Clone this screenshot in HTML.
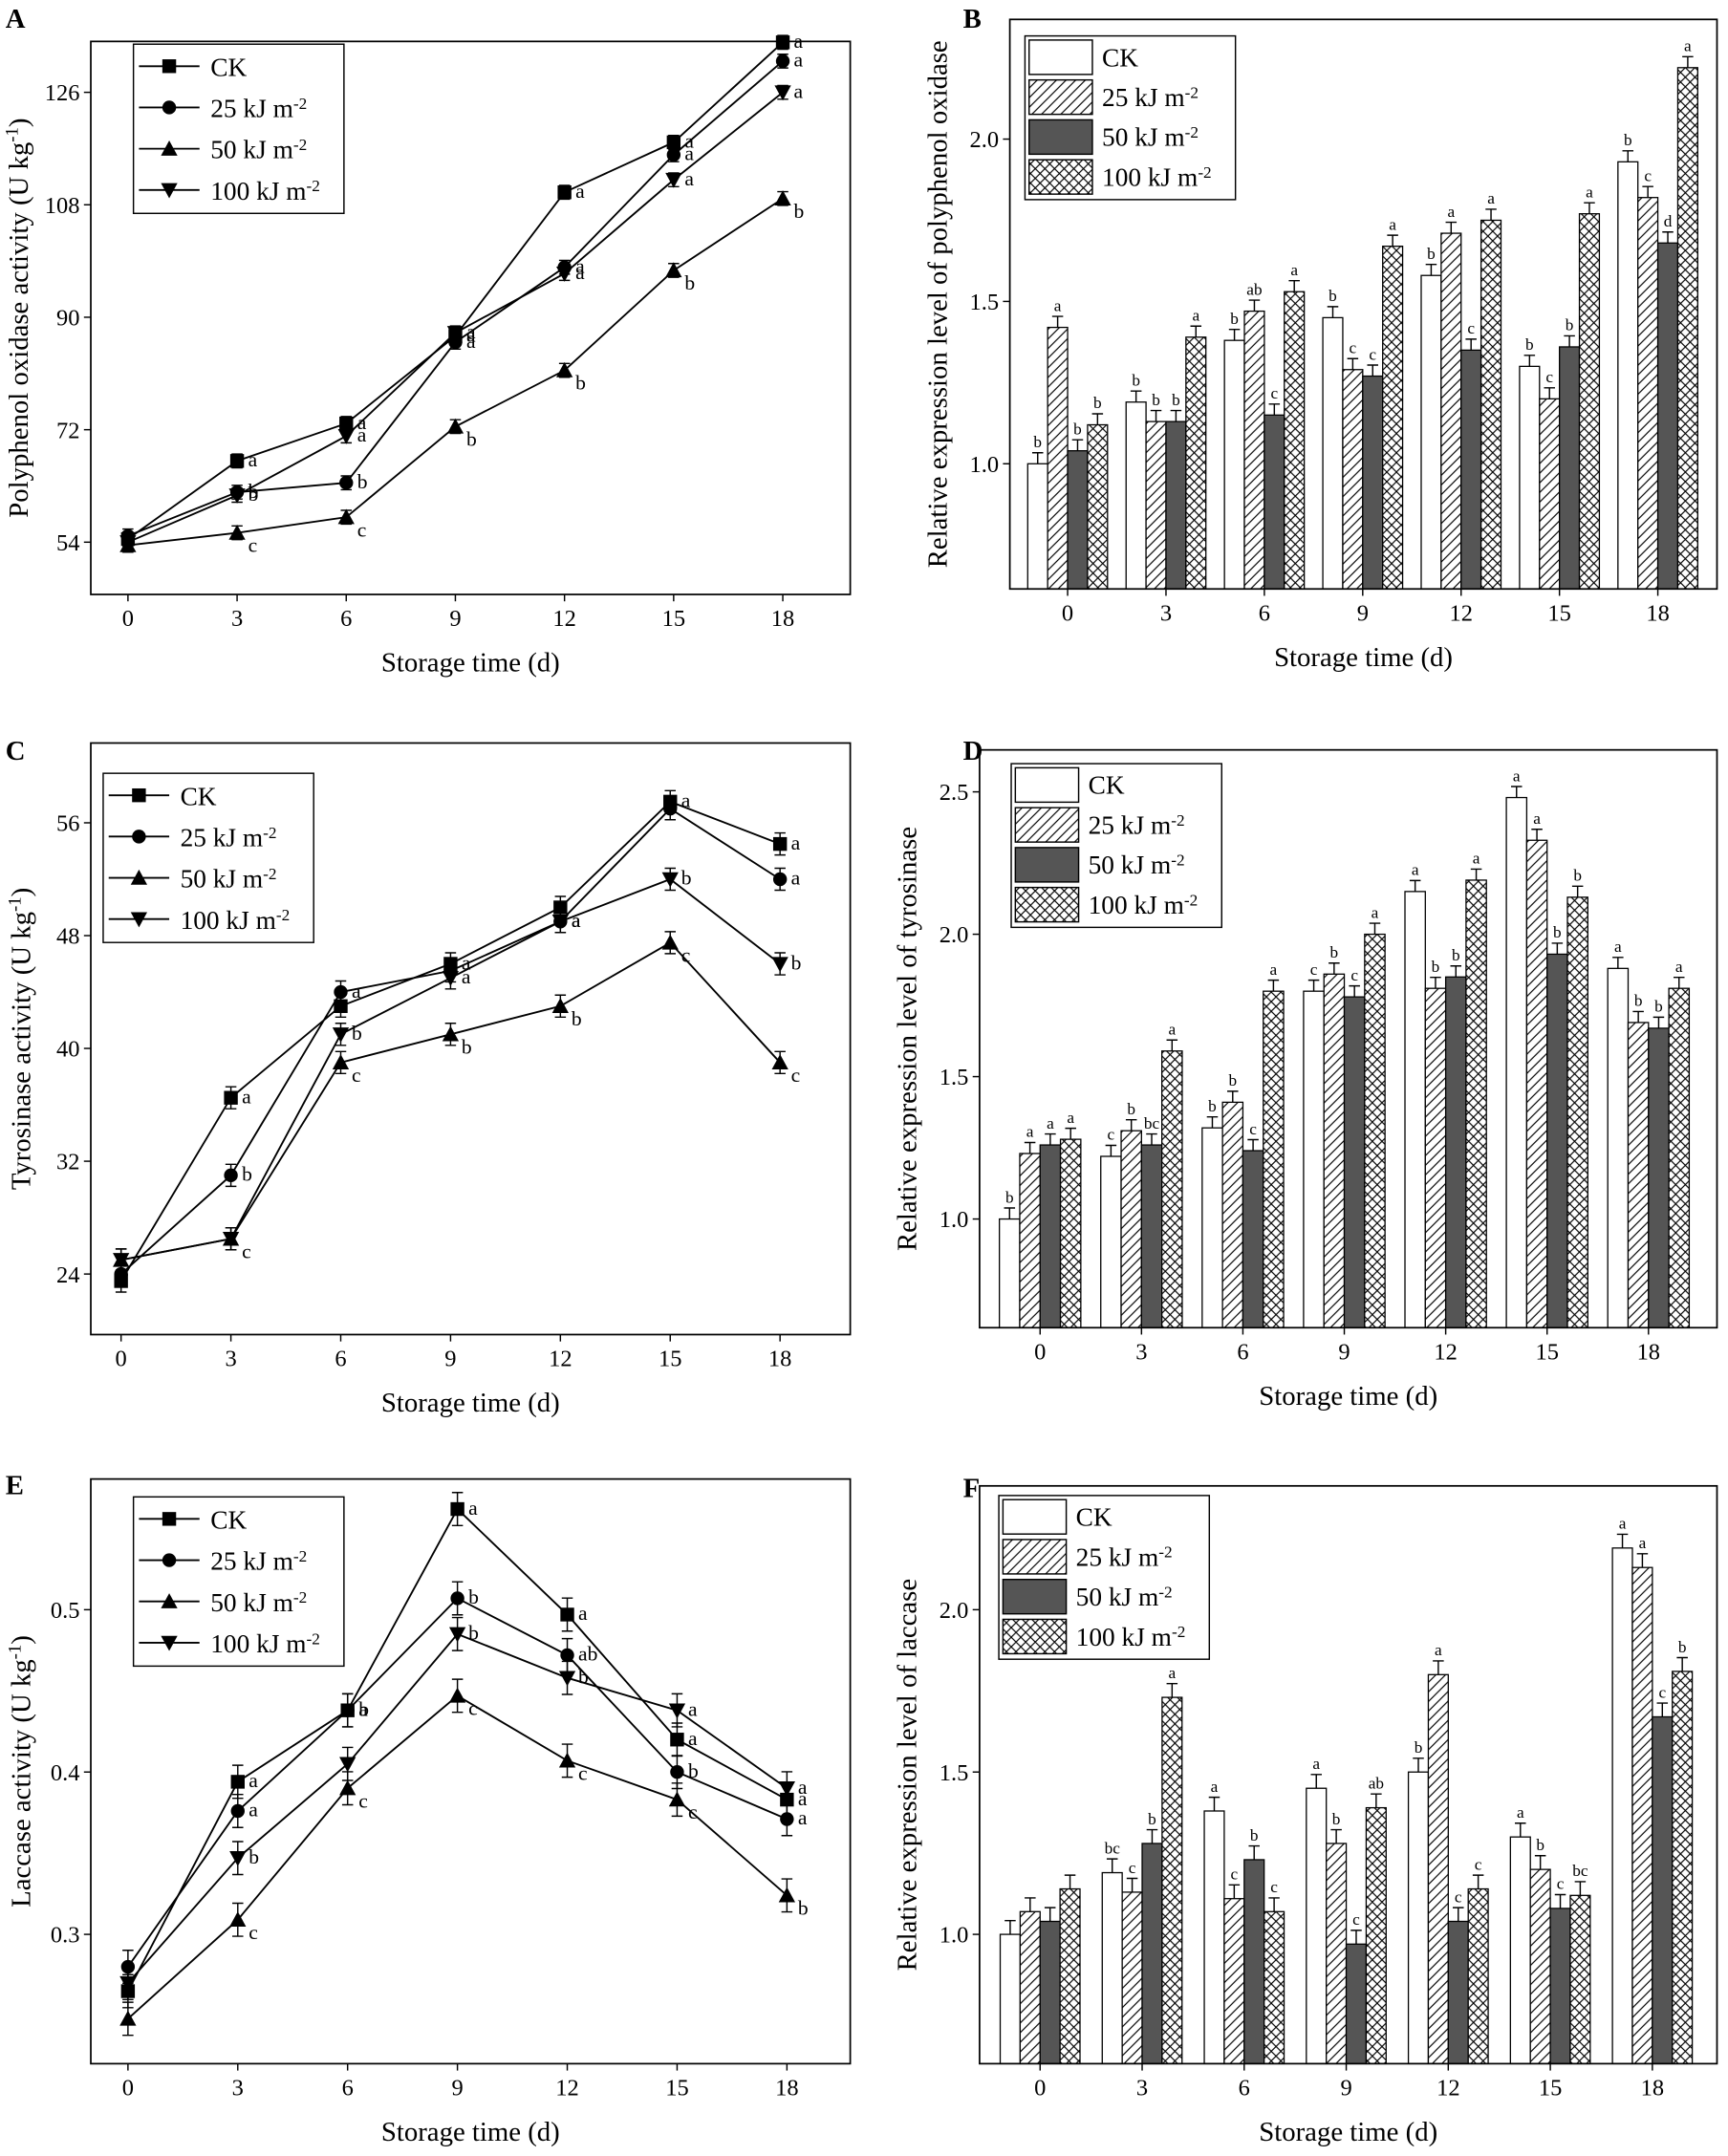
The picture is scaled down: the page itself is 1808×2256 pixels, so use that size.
<!DOCTYPE html>
<html><head><meta charset="utf-8"><style>
html,body{margin:0;padding:0;background:#fff}
svg{display:block}
text{font-family:"Liberation Serif",serif;fill:#000}
</style></head><body>
<svg id="s" xmlns="http://www.w3.org/2000/svg" width="1808" height="2256" viewBox="0 0 1256 1567">
<defs>
<pattern id="hatch" patternUnits="userSpaceOnUse" width="7" height="7"><rect width="7" height="7" fill="#fff"/><path d="M-1,8 L8,-1 M-2,2 L2,-2 M5,9 L9,5" stroke="#000" stroke-width="0.8"/></pattern>
<pattern id="cross" patternUnits="userSpaceOnUse" width="7" height="7"><rect width="7" height="7" fill="#fff"/><path d="M-1,8 L8,-1 M-1,-1 L8,8" stroke="#000" stroke-width="0.8"/></pattern>
</defs>
</svg>
<script>
const S=document.getElementById('s');let h='';
const T=[0,3,6,9,12,15,18];
function txt(x,y,s,sz,anch,extra){h+=`<text x="${x}" y="${y}" font-size="${sz}" text-anchor="${anch||'start'}" ${extra||''}>${s}</text>`;}
function marker(k,x,y){const r=5;
 if(k==0)h+=`<rect x="${x-r}" y="${y-r}" width="${2*r}" height="${2*r}"/>`;
 else if(k==1)h+=`<circle cx="${x}" cy="${y}" r="${r}"/>`;
 else if(k==2)h+=`<path d="M${x},${y-r-1} L${x+r+1},${y+r} L${x-r-1},${y+r}Z"/>`;
 else h+=`<path d="M${x},${y+r+1} L${x+r+1},${y-r} L${x-r-1},${y-r}Z"/>`;}
const names=['CK','25 kJ m<tspan dy="-6" font-size="12">-2</tspan>','50 kJ m<tspan dy="-6" font-size="12">-2</tspan>','100 kJ m<tspan dy="-6" font-size="12">-2</tspan>'];
function axes(c){const b=c.box;
 h+=`<rect x="${b[0]}" y="${b[1]}" width="${b[2]-b[0]}" height="${b[3]-b[1]}" fill="none" stroke="#000" stroke-width="1.2"/>`;
 T.forEach((t,i)=>{const x=c.x0+i*c.dx;h+=`<line x1="${x}" y1="${b[3]}" x2="${x}" y2="${b[3]+5}" stroke="#000"/>`;txt(x,b[3]+23,t,17,'middle');});
 c.yt.forEach(v=>{const y=c.ym(v);h+=`<line x1="${b[0]-5}" y1="${y}" x2="${b[0]}" y2="${y}" stroke="#000"/>`;txt(b[0]-8,y+6,c.yf(v),17,'end');});
 txt((b[0]+b[2])/2,b[3]+56,'Storage time (d)',20,'middle');
 const cy=(b[1]+b[3])/2;h+=`<text x="${c.ylx}" y="${cy}" font-size="20" text-anchor="middle" transform="rotate(-90 ${c.ylx} ${cy})">${c.yl}</text>`;
 txt(c.lab[0],c.lab[1],c.lab[2],20,'start','font-weight="bold"');}
function lineP(c){axes(c);
 c.d.forEach((ser,k)=>{let p='';ser.forEach((v,i)=>{p+=(i?'L':'M')+(c.x0+i*c.dx)+','+c.ym(v);});h+=`<path d="${p}" fill="none" stroke="#000" stroke-width="1.3"/>`;
  ser.forEach((v,i)=>{const x=c.x0+i*c.dx,y=c.ym(v),e=c.err;h+=`<path d="M${x},${y-e}V${y+e}M${x-4},${y-e}H${x+4}M${x-4},${y+e}H${x+4}" stroke="#000" fill="none"/>`;marker(k,x,y);
   if(c.L&&c.L[k][i])txt(x+8,y+(k==2?14:4),c.L[k][i],15);});});
 const g=c.leg;h+=`<rect x="${g[0]}" y="${g[1]}" width="153" height="123" fill="#fff" stroke="#000"/>`;
 for(let k=0;k<4;k++){const y=g[1]+16+k*30;h+=`<line x1="${g[0]+4}" y1="${y}" x2="${g[0]+48}" y2="${y}" stroke="#000" stroke-width="1.3"/>`;marker(k,g[0]+26,y);txt(g[0]+56,y+7,names[k],19);}}
const fills=['#fff','url(#hatch)','#555','url(#cross)'];
function barP(c){const b=c.box;const w=c.bw;
 c.d.forEach((g,i)=>{const cx=c.x0+i*c.dx;g.forEach((v,k)=>{const x=cx-2*w+k*w,y=c.ym(v);h+=`<rect x="${x}" y="${y}" width="${w}" height="${b[3]-y}" fill="${fills[k]}" stroke="#000" stroke-width="0.9"/>`;
  const e=c.err;h+=`<path d="M${x+w/2},${y}V${y-e}M${x+w/2-4},${y-e}H${x+w/2+4}" stroke="#000"/>`;
  if(c.L)txt(x+w/2,y-e-4,c.L[i][k],12,'middle');});});
 axes(c);
 const g=c.leg;h+=`<rect x="${g[0]}" y="${g[1]}" width="153" height="119" fill="#fff" stroke="#000"/>`;
 for(let k=0;k<4;k++){const y=g[1]+3+k*29;h+=`<rect x="${g[0]+3}" y="${y}" width="46" height="25" fill="${fills[k]}" stroke="#000"/>`;txt(g[0]+56,y+19,names[k],19);}}
// A
lineP({box:[66,30,618,432],x0:93,dx:79.33,ym:v=>394-(v-54)*327/72,yt:[54,72,90,108,126],yf:v=>v,err:5,
 yl:'Polyphenol oxidase activity (U kg<tspan dy="-7" font-size="13">-1</tspan><tspan dy="7">)</tspan>',ylx:20,lab:[4,20,'A'],leg:[97,32],
 d:[[54.5,67,73,87,110,118,134],[55,62,63.5,86,98,116,131],[53.5,55.5,58,72.5,81.5,97.5,109],[54,61.5,71,87.5,97,112,126]],
 L:[['','a','a','a','a','a','a'],['','b','b','a','a','a','a'],['','c','c','b','b','b','b'],['','b','a','a','a','a','a']]});
// B
barP({box:[734,14,1248,428],x0:776,dx:71.5,bw:14.5,ym:v=>337-(v-1)*236,yt:[1.0,1.5,2.0],yf:v=>v.toFixed(1),err:8,
 yl:'Relative expression level of polyphenol oxidase',ylx:688,lab:[700,20,'B'],leg:[745,26],
 d:[[1.0,1.42,1.04,1.12],[1.19,1.13,1.13,1.39],[1.38,1.47,1.15,1.53],[1.45,1.29,1.27,1.67],[1.58,1.71,1.35,1.75],[1.30,1.20,1.36,1.77],[1.93,1.82,1.68,2.22]],
 L:[['b','a','b','b'],['b','b','b','a'],['b','ab','c','a'],['b','c','c','a'],['b','a','c','a'],['b','c','b','a'],['b','c','d','a']]});
// C
lineP({box:[66,540,618,970],x0:88,dx:79.83,ym:v=>926-(v-24)*10.25,yt:[24,32,40,48,56],yf:v=>v,err:8,
 yl:'Tyrosinase activity (U kg<tspan dy="-7" font-size="13">-1</tspan><tspan dy="7">)</tspan>',ylx:22,lab:[4,552,'C'],leg:[75,562],
 d:[[23.5,36.5,43,46,50,57.5,54.5],[24,31,44,45.5,49,57,52],[25,26.5,39,41,43,47.5,39],[25,26.5,41,45,49,52,46]],
 L:[['','a','','a','','a','a'],['','b','a','','a','','a'],['','c','c','b','b','c','c'],['','','b','a','a','b','b']]});
// D
barP({box:[712,545,1248,965],x0:756,dx:73.7,bw:14.8,ym:v=>886-(v-1)*207,yt:[1.0,1.5,2.0,2.5],yf:v=>v.toFixed(1),err:8,
 yl:'Relative expression level of tyrosinase',ylx:666,lab:[700,552,'D'],leg:[735,555],
 d:[[1.0,1.23,1.26,1.28],[1.22,1.31,1.26,1.59],[1.32,1.41,1.24,1.80],[1.80,1.86,1.78,2.0],[2.15,1.81,1.85,2.19],[2.48,2.33,1.93,2.13],[1.88,1.69,1.67,1.81]],
 L:[['b','a','a','a'],['c','b','bc','a'],['b','b','c','a'],['c','b','c','a'],['a','b','b','a'],['a','a','b','b'],['a','b','b','a']]});
// E
lineP({box:[66,1075,618,1500],x0:93,dx:79.83,ym:v=>1406-(v-0.3)*1180,yt:[0.3,0.4,0.5],yf:v=>v.toFixed(1),err:12,
 yl:'Laccase activity (U kg<tspan dy="-7" font-size="13">-1</tspan><tspan dy="7">)</tspan>',ylx:22,lab:[4,1086,'E'],leg:[97,1088],
 d:[[0.265,0.394,0.438,0.562,0.497,0.42,0.383],[0.28,0.376,0.438,0.507,0.472,0.40,0.371],[0.248,0.309,0.390,0.447,0.407,0.383,0.324],[0.27,0.347,0.405,0.485,0.458,0.438,0.39]],
 L:[['','a','a','a','a','a','a'],['','a','b','b','ab','b','a'],['','c','c','c','c','c','b'],['','b','','b','b','a','a']]});
// F
barP({box:[712,1080,1248,1500],x0:756,dx:74.17,bw:14.5,ym:v=>1406-(v-1)*236,yt:[1.0,1.5,2.0],yf:v=>v.toFixed(1),err:10,
 yl:'Relative expression level of laccase',ylx:666,lab:[700,1088,'F'],leg:[726,1087],
 d:[[1.0,1.07,1.04,1.14],[1.19,1.13,1.28,1.73],[1.38,1.11,1.23,1.07],[1.45,1.28,0.97,1.39],[1.50,1.80,1.04,1.14],[1.30,1.20,1.08,1.12],[2.19,2.13,1.67,1.81]],
 L:[['','','',''],['bc','c','b','a'],['a','c','b','c'],['a','b','c','ab'],['b','a','c','c'],['a','b','c','bc'],['a','a','c','b']]});
S.insertAdjacentHTML('beforeend',h);
</script>
</body></html>
